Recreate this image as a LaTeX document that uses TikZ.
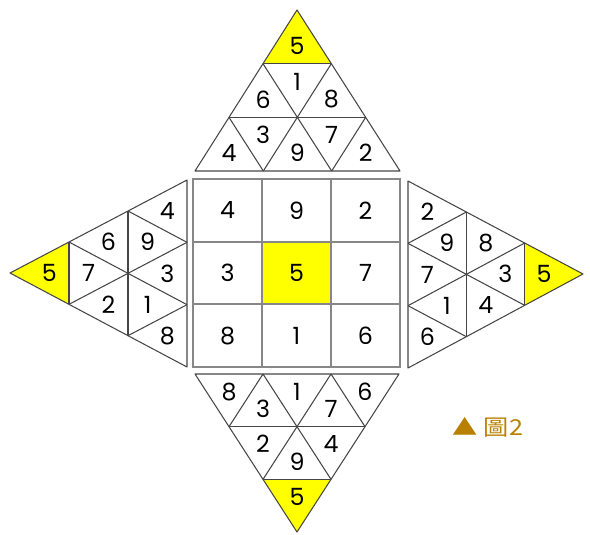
\documentclass[tikz,border=0pt]{standalone}
\usepackage{fontspec}
\setmainfont{Poppins}
\newfontfamily\cjk{Noto Sans CJK TC}
\usetikzlibrary{calc}
\definecolor{magicyellow}{RGB}{255,255,0}
\definecolor{gridgray}{RGB}{135,135,135}
\definecolor{trigray}{RGB}{70,70,70}
\definecolor{captiongold}{RGB}{185,128,0}
\newcommand{\digitfont}{\fontsize{13.5}{16}\selectfont}
\tikzset{
  triline/.style={draw=trigray, line width=0.6pt, line join=round},
  cellbox/.style={draw=gridgray, line width=1.2pt, minimum width=1.38cm,
    minimum height=1.253cm, inner sep=0pt, font=\digitfont},
  digit/.style={inner sep=0pt, font=\digitfont},
}
\begin{document}
\begin{tikzpicture}[x=0.02cm, y=-0.02cm]
        \useasboundingbox (0,0) rectangle (590,534);
        % centre square
        \fill[magicyellow] (262,241.67) rectangle (331,304.33);
        \foreach \row/\list in {1/{4,9,2}, 2/{3,5,7}, 3/{8,1,6}} {
          \foreach \d [count=\col] in \list {
            \node[cellbox] (cell-\row-\col) at ({193+69*(\col-0.5)}, {179+62.67*(\row-0.5)}) {\d};
          }
        }
        % four triangles: apex A, base B -- C
        \foreach \n/\ax/\ay/\bx/\by/\cx/\cy/\mid/\low in {
            top/297/10/195/171/400/171/{6,1,8}/{4,3,9,7,2},
            left/10/273/187/180/187/367/{6,7,2}/{4,9,3,1,8},
            right/583/274/408/181/408/368/{8,3,4}/{2,9,7,1,6},
            bottom/297/532/195/374/399/374/{2,9,4}/{8,3,1,7,6}} {
          \coordinate (\n-A) at (\ax,\ay);
          \coordinate (\n-B) at (\bx,\by);
          \coordinate (\n-C) at (\cx,\cy);
          % yellow tip
          \fill[magicyellow] (\n-A) -- ($(\n-A)!0.3333!(\n-B)$) -- ($(\n-A)!0.3333!(\n-C)$) -- cycle;
          \draw[triline] (\n-A) -- (\n-B) -- (\n-C) -- cycle;
          \foreach \t in {0.3333, 0.6667} {
            \draw[triline] ($(\n-A)!\t!(\n-B)$) -- ($(\n-A)!\t!(\n-C)$);
            \draw[triline] ($(\n-A)!\t!(\n-C)$) -- ($(\n-B)!\t!(\n-C)$);
            \draw[triline] ($(\n-A)!\t!(\n-B)$) -- ($(\n-C)!\t!(\n-B)$);
          }
          % numbers
          \node[digit] (\n-tip) at ($ {7/9}*(\n-A) + {1/9}*(\n-B) + {1/9}*(\n-C) $) {5};
          \foreach \d [count=\i] in \mid {
            \pgfmathsetmacro\u{isodd(\i) ? 5/9 : 4/9}
            \pgfmathsetmacro\v{isodd(\i) ? (3*\i-1)/18 : (3*\i-2)/18}
            \node[digit] (\n-m\i) at ($ {1-\u}*(\n-A) + {\u-\v}*(\n-B) + {\v}*(\n-C) $) {\d};
          }
          \foreach \d [count=\i] in \low {
            \pgfmathsetmacro\u{isodd(\i) ? 8/9 : 7/9}
            \pgfmathsetmacro\v{isodd(\i) ? (3*\i-1)/18 : (3*\i-2)/18}
            \node[digit] (\n-l\i) at ($ {1-\u}*(\n-A) + {\u-\v}*(\n-B) + {\v}*(\n-C) $) {\d};
          }
        }
        % caption
        \node[text=captiongold, font=\cjk\fontsize{12.5}{15}\selectfont] (caption) at (488,427) {\scalebox{1.15}[1]{▲ 圖2}};
\end{tikzpicture}
\end{document}
